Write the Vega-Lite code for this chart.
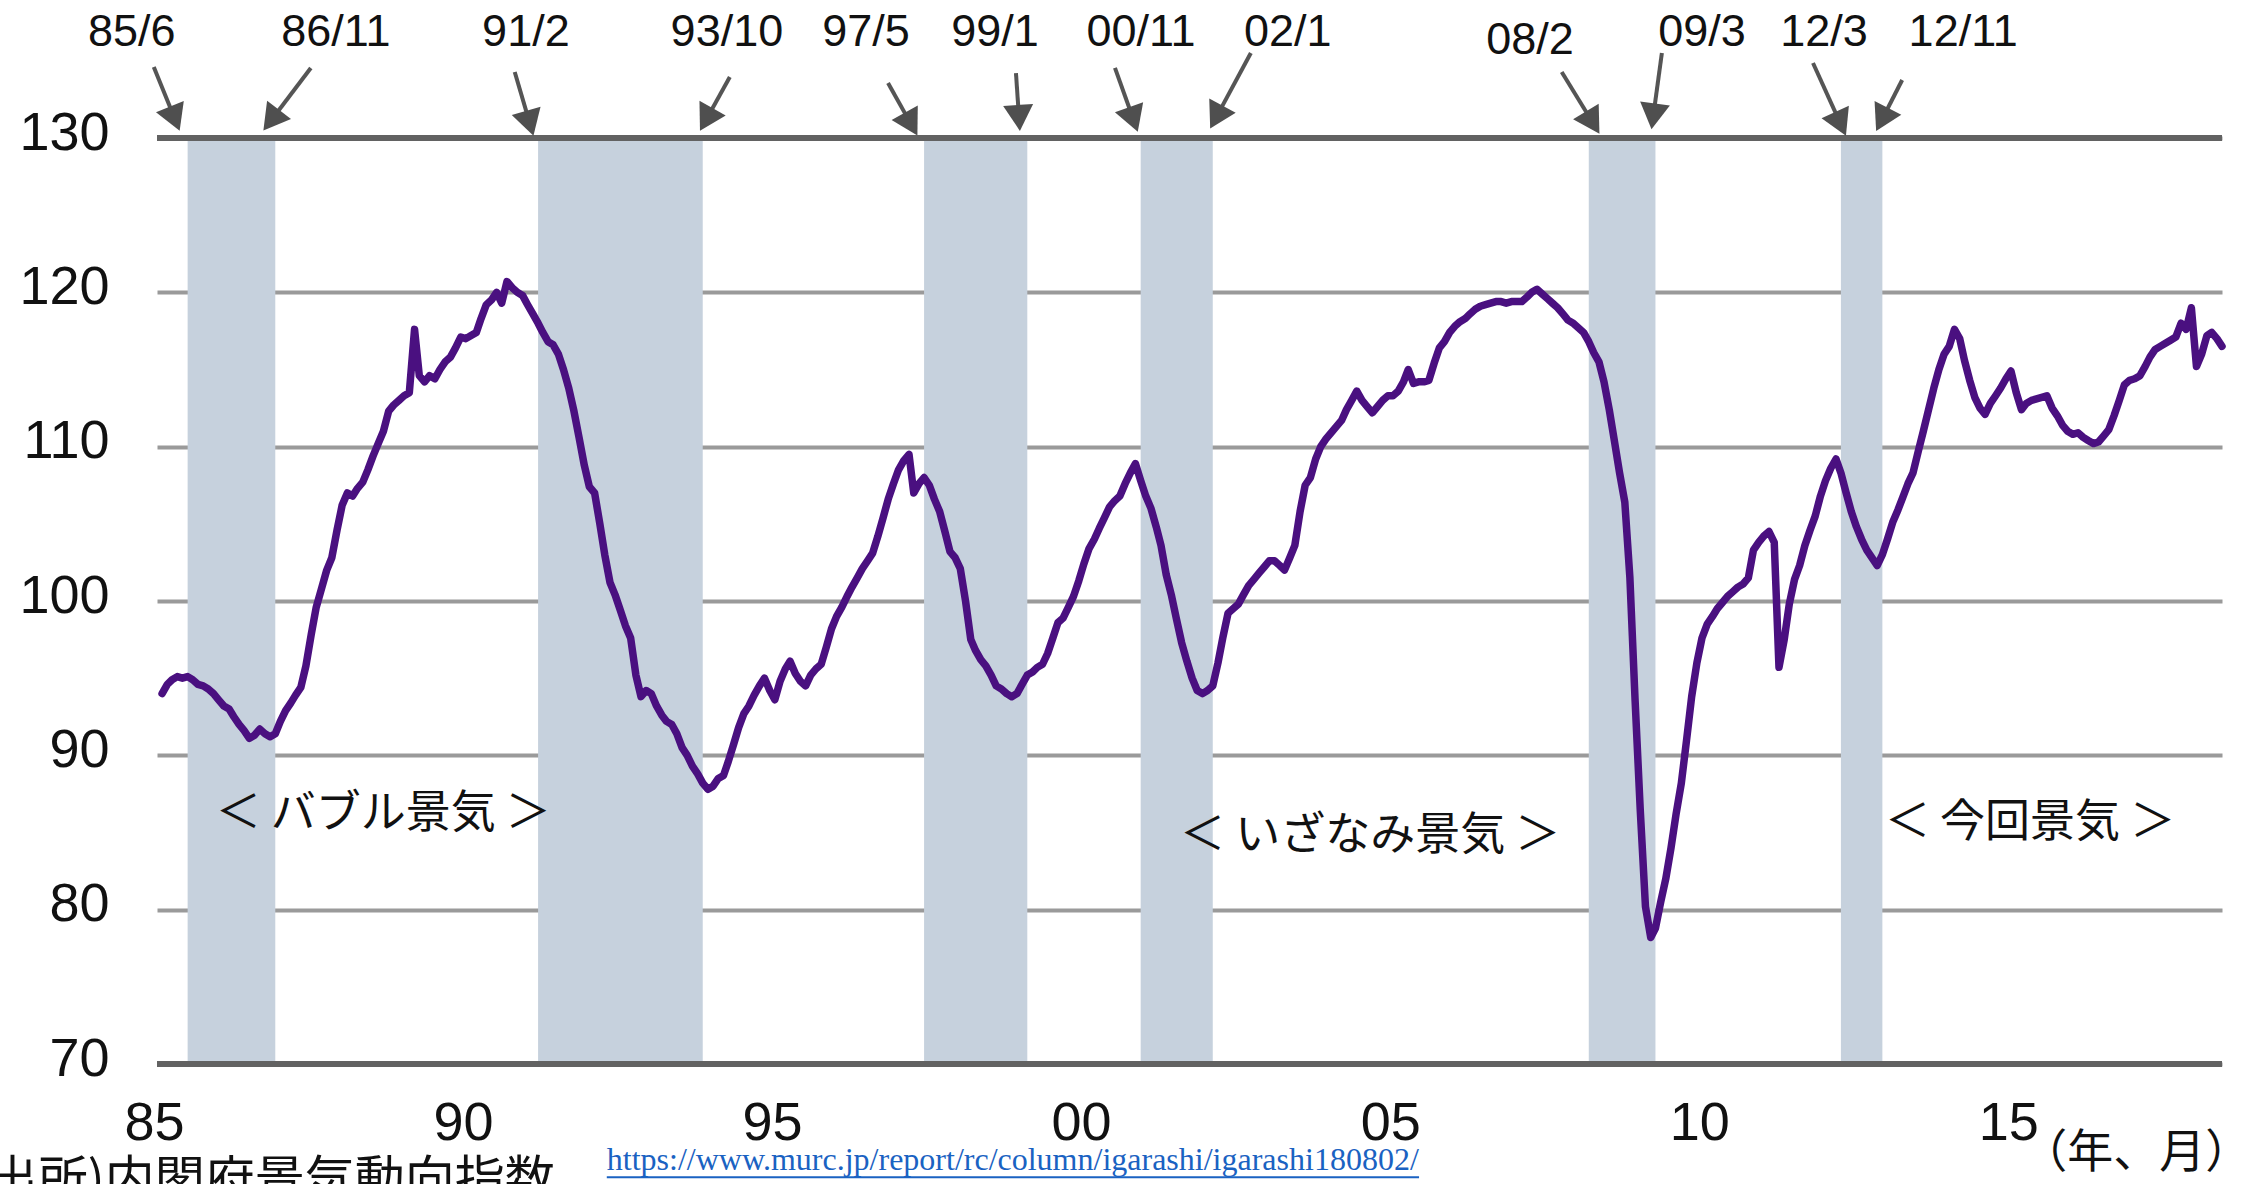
{
  "$schema": "https://vega.github.io/schema/vega-lite/v6.json",
  "width": 2065,
  "height": 926,
  "autosize": {"type": "none"},
  "padding": {"left": 157, "top": 138, "right": 22, "bottom": 120},
  "background": "#ffffff",
  "config": {"view": {"stroke": null}, "font": "Liberation Sans"},
  "datasets": {
    "ci": [
      {"date":"1985-01-01","ci":94.0},{"date":"1985-02-01","ci":94.6},{"date":"1985-03-01","ci":94.9},{"date":"1985-04-01","ci":95.1},{"date":"1985-05-01","ci":95.0},{"date":"1985-06-01","ci":95.1},{"date":"1985-07-01","ci":94.9},{"date":"1985-08-01","ci":94.6},{"date":"1985-09-01","ci":94.5},{"date":"1985-10-01","ci":94.3},{"date":"1985-11-01","ci":94.0},{"date":"1985-12-01","ci":93.6},
      {"date":"1986-01-01","ci":93.2},{"date":"1986-02-01","ci":93.0},{"date":"1986-03-01","ci":92.5},{"date":"1986-04-01","ci":92.0},{"date":"1986-05-01","ci":91.6},{"date":"1986-06-01","ci":91.1},{"date":"1986-07-01","ci":91.3},{"date":"1986-08-01","ci":91.7},{"date":"1986-09-01","ci":91.4},{"date":"1986-10-01","ci":91.2},{"date":"1986-11-01","ci":91.4},{"date":"1986-12-01","ci":92.2},
      {"date":"1987-01-01","ci":92.9},{"date":"1987-02-01","ci":93.4},{"date":"1987-03-01","ci":93.9},{"date":"1987-04-01","ci":94.4},{"date":"1987-05-01","ci":95.8},{"date":"1987-06-01","ci":97.8},{"date":"1987-07-01","ci":99.6},{"date":"1987-08-01","ci":100.8},{"date":"1987-09-01","ci":102.0},{"date":"1987-10-01","ci":102.8},{"date":"1987-11-01","ci":104.6},{"date":"1987-12-01","ci":106.2},
      {"date":"1988-01-01","ci":107.0},{"date":"1988-02-01","ci":106.8},{"date":"1988-03-01","ci":107.3},{"date":"1988-04-01","ci":107.7},{"date":"1988-05-01","ci":108.5},{"date":"1988-06-01","ci":109.4},{"date":"1988-07-01","ci":110.2},{"date":"1988-08-01","ci":111.0},{"date":"1988-09-01","ci":112.3},{"date":"1988-10-01","ci":112.7},{"date":"1988-11-01","ci":113.0},{"date":"1988-12-01","ci":113.3},
      {"date":"1989-01-01","ci":113.5},{"date":"1989-02-01","ci":117.6},{"date":"1989-03-01","ci":114.6},{"date":"1989-04-01","ci":114.2},{"date":"1989-05-01","ci":114.6},{"date":"1989-06-01","ci":114.4},{"date":"1989-07-01","ci":115.0},{"date":"1989-08-01","ci":115.5},{"date":"1989-09-01","ci":115.8},{"date":"1989-10-01","ci":116.4},{"date":"1989-11-01","ci":117.1},{"date":"1989-12-01","ci":117.0},
      {"date":"1990-01-01","ci":117.2},{"date":"1990-02-01","ci":117.4},{"date":"1990-03-01","ci":118.3},{"date":"1990-04-01","ci":119.2},{"date":"1990-05-01","ci":119.5},{"date":"1990-06-01","ci":120.0},{"date":"1990-07-01","ci":119.3},{"date":"1990-08-01","ci":120.7},{"date":"1990-09-01","ci":120.3},{"date":"1990-10-01","ci":120.0},{"date":"1990-11-01","ci":119.8},{"date":"1990-12-01","ci":119.2},
      {"date":"1991-01-01","ci":118.6},{"date":"1991-02-01","ci":118.0},{"date":"1991-03-01","ci":117.4},{"date":"1991-04-01","ci":116.8},{"date":"1991-05-01","ci":116.6},{"date":"1991-06-01","ci":116.0},{"date":"1991-07-01","ci":115.0},{"date":"1991-08-01","ci":113.8},{"date":"1991-09-01","ci":112.3},{"date":"1991-10-01","ci":110.6},{"date":"1991-11-01","ci":108.8},{"date":"1991-12-01","ci":107.4},
      {"date":"1992-01-01","ci":107.0},{"date":"1992-02-01","ci":105.0},{"date":"1992-03-01","ci":103.0},{"date":"1992-04-01","ci":101.2},{"date":"1992-05-01","ci":100.4},{"date":"1992-06-01","ci":99.4},{"date":"1992-07-01","ci":98.4},{"date":"1992-08-01","ci":97.6},{"date":"1992-09-01","ci":95.2},{"date":"1992-10-01","ci":93.8},{"date":"1992-11-01","ci":94.2},{"date":"1992-12-01","ci":94.0},
      {"date":"1993-01-01","ci":93.2},{"date":"1993-02-01","ci":92.6},{"date":"1993-03-01","ci":92.2},{"date":"1993-04-01","ci":92.0},{"date":"1993-05-01","ci":91.4},{"date":"1993-06-01","ci":90.5},{"date":"1993-07-01","ci":90.0},{"date":"1993-08-01","ci":89.3},{"date":"1993-09-01","ci":88.8},{"date":"1993-10-01","ci":88.2},{"date":"1993-11-01","ci":87.8},{"date":"1993-12-01","ci":88.0},
      {"date":"1994-01-01","ci":88.5},{"date":"1994-02-01","ci":88.7},{"date":"1994-03-01","ci":89.6},{"date":"1994-04-01","ci":90.7},{"date":"1994-05-01","ci":91.8},{"date":"1994-06-01","ci":92.7},{"date":"1994-07-01","ci":93.2},{"date":"1994-08-01","ci":93.9},{"date":"1994-09-01","ci":94.5},{"date":"1994-10-01","ci":95.0},{"date":"1994-11-01","ci":94.2},{"date":"1994-12-01","ci":93.6},
      {"date":"1995-01-01","ci":94.8},{"date":"1995-02-01","ci":95.6},{"date":"1995-03-01","ci":96.1},{"date":"1995-04-01","ci":95.3},{"date":"1995-05-01","ci":94.8},{"date":"1995-06-01","ci":94.5},{"date":"1995-07-01","ci":95.2},{"date":"1995-08-01","ci":95.6},{"date":"1995-09-01","ci":95.9},{"date":"1995-10-01","ci":97.0},{"date":"1995-11-01","ci":98.2},{"date":"1995-12-01","ci":99.0},
      {"date":"1996-01-01","ci":99.6},{"date":"1996-02-01","ci":100.3},{"date":"1996-03-01","ci":100.9},{"date":"1996-04-01","ci":101.5},{"date":"1996-05-01","ci":102.1},{"date":"1996-06-01","ci":102.6},{"date":"1996-07-01","ci":103.1},{"date":"1996-08-01","ci":104.2},{"date":"1996-09-01","ci":105.4},{"date":"1996-10-01","ci":106.6},{"date":"1996-11-01","ci":107.6},{"date":"1996-12-01","ci":108.5},
      {"date":"1997-01-01","ci":109.1},{"date":"1997-02-01","ci":109.5},{"date":"1997-03-01","ci":107.0},{"date":"1997-04-01","ci":107.6},{"date":"1997-05-01","ci":108.0},{"date":"1997-06-01","ci":107.5},{"date":"1997-07-01","ci":106.6},{"date":"1997-08-01","ci":105.8},{"date":"1997-09-01","ci":104.5},{"date":"1997-10-01","ci":103.2},{"date":"1997-11-01","ci":102.8},{"date":"1997-12-01","ci":102.1},
      {"date":"1998-01-01","ci":100.0},{"date":"1998-02-01","ci":97.5},{"date":"1998-03-01","ci":96.8},{"date":"1998-04-01","ci":96.2},{"date":"1998-05-01","ci":95.8},{"date":"1998-06-01","ci":95.2},{"date":"1998-07-01","ci":94.5},{"date":"1998-08-01","ci":94.3},{"date":"1998-09-01","ci":94.0},{"date":"1998-10-01","ci":93.8},{"date":"1998-11-01","ci":94.0},{"date":"1998-12-01","ci":94.6},
      {"date":"1999-01-01","ci":95.2},{"date":"1999-02-01","ci":95.4},{"date":"1999-03-01","ci":95.7},{"date":"1999-04-01","ci":95.9},{"date":"1999-05-01","ci":96.6},{"date":"1999-06-01","ci":97.6},{"date":"1999-07-01","ci":98.6},{"date":"1999-08-01","ci":98.9},{"date":"1999-09-01","ci":99.6},{"date":"1999-10-01","ci":100.3},{"date":"1999-11-01","ci":101.3},{"date":"1999-12-01","ci":102.4},
      {"date":"2000-01-01","ci":103.4},{"date":"2000-02-01","ci":104.0},{"date":"2000-03-01","ci":104.7},{"date":"2000-04-01","ci":105.4},{"date":"2000-05-01","ci":106.1},{"date":"2000-06-01","ci":106.5},{"date":"2000-07-01","ci":106.8},{"date":"2000-08-01","ci":107.6},{"date":"2000-09-01","ci":108.3},{"date":"2000-10-01","ci":108.9},{"date":"2000-11-01","ci":107.8},{"date":"2000-12-01","ci":106.8},
      {"date":"2001-01-01","ci":106.0},{"date":"2001-02-01","ci":104.8},{"date":"2001-03-01","ci":103.6},{"date":"2001-04-01","ci":101.7},{"date":"2001-05-01","ci":100.4},{"date":"2001-06-01","ci":98.8},{"date":"2001-07-01","ci":97.3},{"date":"2001-08-01","ci":96.1},{"date":"2001-09-01","ci":95.0},{"date":"2001-10-01","ci":94.2},{"date":"2001-11-01","ci":94.0},{"date":"2001-12-01","ci":94.2},
      {"date":"2002-01-01","ci":94.5},{"date":"2002-02-01","ci":96.0},{"date":"2002-03-01","ci":97.6},{"date":"2002-04-01","ci":99.2},{"date":"2002-05-01","ci":99.5},{"date":"2002-06-01","ci":99.8},{"date":"2002-07-01","ci":100.4},{"date":"2002-08-01","ci":101.0},{"date":"2002-09-01","ci":101.4},{"date":"2002-10-01","ci":101.8},{"date":"2002-11-01","ci":102.2},{"date":"2002-12-01","ci":102.6},
      {"date":"2003-01-01","ci":102.6},{"date":"2003-02-01","ci":102.3},{"date":"2003-03-01","ci":102.0},{"date":"2003-04-01","ci":102.8},{"date":"2003-05-01","ci":103.6},{"date":"2003-06-01","ci":105.8},{"date":"2003-07-01","ci":107.5},{"date":"2003-08-01","ci":108.0},{"date":"2003-09-01","ci":109.2},{"date":"2003-10-01","ci":110.0},{"date":"2003-11-01","ci":110.5},{"date":"2003-12-01","ci":110.9},
      {"date":"2004-01-01","ci":111.3},{"date":"2004-02-01","ci":111.7},{"date":"2004-03-01","ci":112.4},{"date":"2004-04-01","ci":113.0},{"date":"2004-05-01","ci":113.6},{"date":"2004-06-01","ci":113.0},{"date":"2004-07-01","ci":112.6},{"date":"2004-08-01","ci":112.2},{"date":"2004-09-01","ci":112.6},{"date":"2004-10-01","ci":113.0},{"date":"2004-11-01","ci":113.3},{"date":"2004-12-01","ci":113.3},
      {"date":"2005-01-01","ci":113.6},{"date":"2005-02-01","ci":114.2},{"date":"2005-03-01","ci":115.0},{"date":"2005-04-01","ci":114.1},{"date":"2005-05-01","ci":114.2},{"date":"2005-06-01","ci":114.2},{"date":"2005-07-01","ci":114.3},{"date":"2005-08-01","ci":115.4},{"date":"2005-09-01","ci":116.4},{"date":"2005-10-01","ci":116.8},{"date":"2005-11-01","ci":117.4},{"date":"2005-12-01","ci":117.8},
      {"date":"2006-01-01","ci":118.1},{"date":"2006-02-01","ci":118.3},{"date":"2006-03-01","ci":118.6},{"date":"2006-04-01","ci":118.9},{"date":"2006-05-01","ci":119.1},{"date":"2006-06-01","ci":119.2},{"date":"2006-07-01","ci":119.3},{"date":"2006-08-01","ci":119.4},{"date":"2006-09-01","ci":119.4},{"date":"2006-10-01","ci":119.3},{"date":"2006-11-01","ci":119.4},{"date":"2006-12-01","ci":119.4},
      {"date":"2007-01-01","ci":119.4},{"date":"2007-02-01","ci":119.7},{"date":"2007-03-01","ci":120.0},{"date":"2007-04-01","ci":120.2},{"date":"2007-05-01","ci":119.9},{"date":"2007-06-01","ci":119.6},{"date":"2007-07-01","ci":119.3},{"date":"2007-08-01","ci":119.0},{"date":"2007-09-01","ci":118.6},{"date":"2007-10-01","ci":118.2},{"date":"2007-11-01","ci":118.0},{"date":"2007-12-01","ci":117.7},
      {"date":"2008-01-01","ci":117.4},{"date":"2008-02-01","ci":116.8},{"date":"2008-03-01","ci":116.1},{"date":"2008-04-01","ci":115.5},{"date":"2008-05-01","ci":114.2},{"date":"2008-06-01","ci":112.4},{"date":"2008-07-01","ci":110.4},{"date":"2008-08-01","ci":108.3},{"date":"2008-09-01","ci":106.4},{"date":"2008-10-01","ci":101.5},{"date":"2008-11-01","ci":93.5},{"date":"2008-12-01","ci":86.5},
      {"date":"2009-01-01","ci":80.2},{"date":"2009-02-01","ci":78.2},{"date":"2009-03-01","ci":78.8},{"date":"2009-04-01","ci":80.5},{"date":"2009-05-01","ci":82.0},{"date":"2009-06-01","ci":84.0},{"date":"2009-07-01","ci":86.2},{"date":"2009-08-01","ci":88.2},{"date":"2009-09-01","ci":91.0},{"date":"2009-10-01","ci":93.8},{"date":"2009-11-01","ci":96.0},{"date":"2009-12-01","ci":97.6},
      {"date":"2010-01-01","ci":98.5},{"date":"2010-02-01","ci":99.0},{"date":"2010-03-01","ci":99.5},{"date":"2010-04-01","ci":99.9},{"date":"2010-05-01","ci":100.3},{"date":"2010-06-01","ci":100.6},{"date":"2010-07-01","ci":100.9},{"date":"2010-08-01","ci":101.1},{"date":"2010-09-01","ci":101.5},{"date":"2010-10-01","ci":103.3},{"date":"2010-11-01","ci":103.8},{"date":"2010-12-01","ci":104.2},
      {"date":"2011-01-01","ci":104.5},{"date":"2011-02-01","ci":103.8},{"date":"2011-03-01","ci":95.7},{"date":"2011-04-01","ci":97.5},{"date":"2011-05-01","ci":99.8},{"date":"2011-06-01","ci":101.4},{"date":"2011-07-01","ci":102.3},{"date":"2011-08-01","ci":103.6},{"date":"2011-09-01","ci":104.6},{"date":"2011-10-01","ci":105.5},{"date":"2011-11-01","ci":106.8},{"date":"2011-12-01","ci":107.8},
      {"date":"2012-01-01","ci":108.6},{"date":"2012-02-01","ci":109.2},{"date":"2012-03-01","ci":108.3},{"date":"2012-04-01","ci":107.0},{"date":"2012-05-01","ci":105.8},{"date":"2012-06-01","ci":104.8},{"date":"2012-07-01","ci":104.0},{"date":"2012-08-01","ci":103.3},{"date":"2012-09-01","ci":102.8},{"date":"2012-10-01","ci":102.3},{"date":"2012-11-01","ci":103.0},{"date":"2012-12-01","ci":104.0},
      {"date":"2013-01-01","ci":105.1},{"date":"2013-02-01","ci":105.9},{"date":"2013-03-01","ci":106.7},{"date":"2013-04-01","ci":107.6},{"date":"2013-05-01","ci":108.3},{"date":"2013-06-01","ci":109.7},{"date":"2013-07-01","ci":111.0},{"date":"2013-08-01","ci":112.4},{"date":"2013-09-01","ci":113.8},{"date":"2013-10-01","ci":115.0},{"date":"2013-11-01","ci":116.0},{"date":"2013-12-01","ci":116.5},
      {"date":"2014-01-01","ci":117.6},{"date":"2014-02-01","ci":117.0},{"date":"2014-03-01","ci":115.6},{"date":"2014-04-01","ci":114.3},{"date":"2014-05-01","ci":113.2},{"date":"2014-06-01","ci":112.5},{"date":"2014-07-01","ci":112.1},{"date":"2014-08-01","ci":112.8},{"date":"2014-09-01","ci":113.3},{"date":"2014-10-01","ci":113.8},{"date":"2014-11-01","ci":114.4},{"date":"2014-12-01","ci":114.9},
      {"date":"2015-01-01","ci":113.5},{"date":"2015-02-01","ci":112.4},{"date":"2015-03-01","ci":112.8},{"date":"2015-04-01","ci":113.0},{"date":"2015-05-01","ci":113.1},{"date":"2015-06-01","ci":113.2},{"date":"2015-07-01","ci":113.3},{"date":"2015-08-01","ci":112.5},{"date":"2015-09-01","ci":112.0},{"date":"2015-10-01","ci":111.4},{"date":"2015-11-01","ci":111.0},{"date":"2015-12-01","ci":110.8},
      {"date":"2016-01-01","ci":110.9},{"date":"2016-02-01","ci":110.6},{"date":"2016-03-01","ci":110.4},{"date":"2016-04-01","ci":110.2},{"date":"2016-05-01","ci":110.3},{"date":"2016-06-01","ci":110.7},{"date":"2016-07-01","ci":111.1},{"date":"2016-08-01","ci":112.0},{"date":"2016-09-01","ci":113.0},{"date":"2016-10-01","ci":114.0},{"date":"2016-11-01","ci":114.3},{"date":"2016-12-01","ci":114.4},
      {"date":"2017-01-01","ci":114.6},{"date":"2017-02-01","ci":115.2},{"date":"2017-03-01","ci":115.8},{"date":"2017-04-01","ci":116.3},{"date":"2017-05-01","ci":116.5},{"date":"2017-06-01","ci":116.7},{"date":"2017-07-01","ci":116.9},{"date":"2017-08-01","ci":117.1},{"date":"2017-09-01","ci":118.0},{"date":"2017-10-01","ci":117.6},{"date":"2017-11-01","ci":119.0},{"date":"2017-12-01","ci":115.2},
      {"date":"2018-01-01","ci":116.0},{"date":"2018-02-01","ci":117.2},{"date":"2018-03-01","ci":117.4},{"date":"2018-04-01","ci":117.0},{"date":"2018-05-01","ci":116.5}
    ],
    "bands": [
      {"start":"1985-06-01","end":"1986-11-01"},
      {"start":"1991-02-01","end":"1993-10-01"},
      {"start":"1997-05-01","end":"1999-01-01"},
      {"start":"2000-11-01","end":"2002-01-01"},
      {"start":"2008-02-01","end":"2009-03-01"},
      {"start":"2012-03-01","end":"2012-11-01"}
    ],
    "turns": [
      {"label":"85/6","lx":"1984-07-06","ly":136.9,"tx":"1984-11-13","ty":134.6,"hx":"1985-03-17","hy":131.25},
      {"label":"86/11","lx":"1987-10-25","ly":136.9,"tx":"1987-05-30","ty":134.54,"hx":"1986-10-08","hy":131.15},
      {"label":"91/2","lx":"1990-11-21","ly":136.9,"tx":"1990-09-16","ty":134.28,"hx":"1990-12-14","hy":130.95},
      {"label":"93/10","lx":"1994-02-21","ly":136.9,"tx":"1994-03-10","ty":133.95,"hx":"1993-10-22","hy":131.2},
      {"label":"97/5","lx":"1996-05-23","ly":136.9,"tx":"1996-09-30","ty":133.56,"hx":"1997-02-13","hy":130.9},
      {"label":"99/1","lx":"1998-06-24","ly":136.9,"tx":"1998-10-26","ty":134.21,"hx":"1998-11-13","hy":131.3},
      {"label":"00/11","lx":"2000-11-03","ly":136.9,"tx":"2000-06-02","ty":134.54,"hx":"2000-09-19","hy":131.2},
      {"label":"02/1","lx":"2003-03-20","ly":136.9,"tx":"2002-08-14","ty":135.51,"hx":"2002-01-22","hy":131.35},
      {"label":"08/2","lx":"2007-02-19","ly":136.35,"tx":"2007-08-25","ty":134.28,"hx":"2008-02-24","hy":131.0},
      {"label":"09/3","lx":"2009-12-01","ly":136.9,"tx":"2009-04-08","ty":135.51,"hx":"2009-02-16","hy":131.4},
      {"label":"12/3","lx":"2011-11-22","ly":136.9,"tx":"2011-09-18","ty":134.86,"hx":"2012-02-28","hy":130.92},
      {"label":"12/11","lx":"2014-02-22","ly":136.9,"tx":"2013-02-26","ty":133.76,"hx":"2012-10-30","hy":131.2}
    ]
  },
  "layer": [
    {
      "data": {"name": "bands"},
      "mark": {"type": "rect", "color": "#c6d1dd"},
      "encoding": {
        "x": {"field": "start", "type": "temporal", "title": null, "scale": {"type": "utc", "domain": [{"year": 1984, "month": 12, "date": 2, "utc": true}, {"year": 2018, "month": 5, "date": 1, "utc": true}]},
          "axis": {"values": [{"year": 1985, "utc": true}, {"year": 1990, "utc": true}, {"year": 1995, "utc": true}, {"year": 2000, "utc": true}, {"year": 2005, "utc": true}, {"year": 2010, "utc": true}, {"year": 2015, "utc": true}], "labelExpr": "utcFormat(datum.value, '%y')", "labelFontSize": 54, "labelFont": "Liberation Sans", "labelColor": "#111111", "labelPadding": 32, "labelOffset": -8, "ticks": false, "tickSize": 0, "domain": false, "grid": false, "labelFlush": false, "labelOverlap": false}},
        "x2": {"field": "end"},
        "y": {"datum": 130, "type": "quantitative", "title": null, "scale": {"domain": [70, 130], "nice": false, "zero": false},
          "axis": {"values": [70, 80, 90, 100, 110, 120, 130], "labelFontSize": 54, "labelFont": "Liberation Sans", "labelColor": "#111111", "labelPadding": 48, "labelOffset": -5, "ticks": false, "tickSize": 0, "domain": false, "grid": true, "gridColor": "#9a9a9a", "gridWidth": 4, "labelFlush": false, "labelOverlap": false}},
        "y2": {"datum": 70}
      }
    },
    {
      "data": {"values": [{"v": 130}, {"v": 70}]},
      "mark": {"type": "rule", "color": "#626262", "strokeWidth": 6},
      "encoding": {
        "y": {"field": "v", "type": "quantitative", "title": null, "scale": {"domain": [70, 130], "nice": false, "zero": false}}
      }
    },
    {
      "data": {"name": "ci"},
      "mark": {"type": "line", "color": "#4a1080", "strokeWidth": 7.5, "strokeJoin": "round", "strokeCap": "round"},
      "encoding": {
        "x": {"field": "date", "type": "temporal", "title": null, "scale": {"type": "utc", "domain": [{"year": 1984, "month": 12, "date": 2, "utc": true}, {"year": 2018, "month": 5, "date": 1, "utc": true}]},
          "axis": {"values": [{"year": 1985, "utc": true}, {"year": 1990, "utc": true}, {"year": 1995, "utc": true}, {"year": 2000, "utc": true}, {"year": 2005, "utc": true}, {"year": 2010, "utc": true}, {"year": 2015, "utc": true}], "labelExpr": "utcFormat(datum.value, '%y')", "labelFontSize": 54, "labelFont": "Liberation Sans", "labelColor": "#111111", "labelPadding": 32, "labelOffset": -8, "ticks": false, "tickSize": 0, "domain": false, "grid": false, "labelFlush": false, "labelOverlap": false}},
        "y": {"field": "ci", "type": "quantitative", "title": null, "scale": {"domain": [70, 130], "nice": false, "zero": false}}
      }
    },
    {
      "data": {"name": "turns"},
      "mark": {"type": "rule", "color": "#555555", "strokeWidth": 4},
      "encoding": {
        "x": {"field": "tx", "type": "temporal", "title": null},
        "y": {"field": "ty", "type": "quantitative", "title": null},
        "x2": {"field": "hx"},
        "y2": {"field": "hy"}
      }
    },
    {
      "data": {"name": "turns"},
      "transform": [
        {"calculate": "atan2((toDate(datum.hx) - toDate(datum.tx)) / 31557600000 * 61.8, (datum.hy - datum.ty) * 15.43) * 180 / PI", "as": "ang"}
      ],
      "mark": {"type": "point", "shape": "triangle-up", "filled": true, "size": 900, "color": "#4f4f4f", "opacity": 1},
      "encoding": {
        "x": {"field": "hx", "type": "temporal", "title": null},
        "y": {"field": "hy", "type": "quantitative", "title": null},
        "angle": {"field": "ang", "type": "quantitative", "scale": null}
      }
    },
    {
      "data": {"name": "turns"},
      "mark": {"type": "text", "font": "Liberation Sans", "fontSize": 45, "color": "#111111", "align": "center", "baseline": "middle"},
      "encoding": {
        "x": {"field": "lx", "type": "temporal", "title": null},
        "y": {"field": "ly", "type": "quantitative", "title": null},
        "text": {"field": "label"}
      }
    },
    {
      "data": {"values": [
        {"name": "＜ バブル景気 ＞", "x": "1988-07-31", "y": 86.19},
        {"name": "＜ いざなみ景気 ＞", "x": "2004-07-19", "y": 84.76},
        {"name": "＜ 今回景気 ＞", "x": "2015-03-24", "y": 85.6}
      ]},
      "mark": {"type": "text", "font": "Noto Sans CJK JP", "fontSize": 45, "color": "#111111", "align": "center", "baseline": "middle"},
      "encoding": {
        "x": {"field": "x", "type": "temporal", "title": null},
        "y": {"field": "y", "type": "quantitative", "title": null},
        "text": {"field": "name"}
      }
    },
    {
      "data": {"values": [{"t": "(出所)内閣府景気動向指数", "x": "1991-05-10", "y": 64.0}]},
      "mark": {"type": "text", "font": "Noto Sans CJK JP", "fontSize": 50, "color": "#111111", "align": "right", "baseline": "top"},
      "encoding": {
        "x": {"field": "x", "type": "temporal", "title": null},
        "y": {"field": "y", "type": "quantitative", "title": null},
        "text": {"field": "t"}
      }
    },
    {
      "data": {"values": [{"t": "https://www.murc.jp/report/rc/column/igarashi/igarashi180802/", "x": "1992-03-13", "y": 63.12}]},
      "mark": {"type": "text", "font": "Liberation Serif", "fontSize": 32, "color": "#1a62c2", "align": "left", "baseline": "alphabetic"},
      "encoding": {
        "x": {"field": "x", "type": "temporal", "title": null},
        "y": {"field": "y", "type": "quantitative", "title": null},
        "text": {"field": "t"}
      }
    },
    {
      "data": {"values": [{"x": "1992-03-13", "x2": "2005-05-04", "y": 62.67}]},
      "mark": {"type": "rule", "color": "#1a62c2", "strokeWidth": 2},
      "encoding": {
        "x": {"field": "x", "type": "temporal", "title": null},
        "x2": {"field": "x2"},
        "y": {"field": "y", "type": "quantitative", "title": null}
      }
    },
    {
      "data": {"values": [{"t": "（年、月）", "x": "2016-12-10", "y": 64.22}]},
      "mark": {"type": "text", "font": "Noto Sans CJK JP", "fontSize": 46, "color": "#111111", "align": "center", "baseline": "middle"},
      "encoding": {
        "x": {"field": "x", "type": "temporal", "title": null},
        "y": {"field": "y", "type": "quantitative", "title": null},
        "text": {"field": "t"}
      }
    }
  ]
}
